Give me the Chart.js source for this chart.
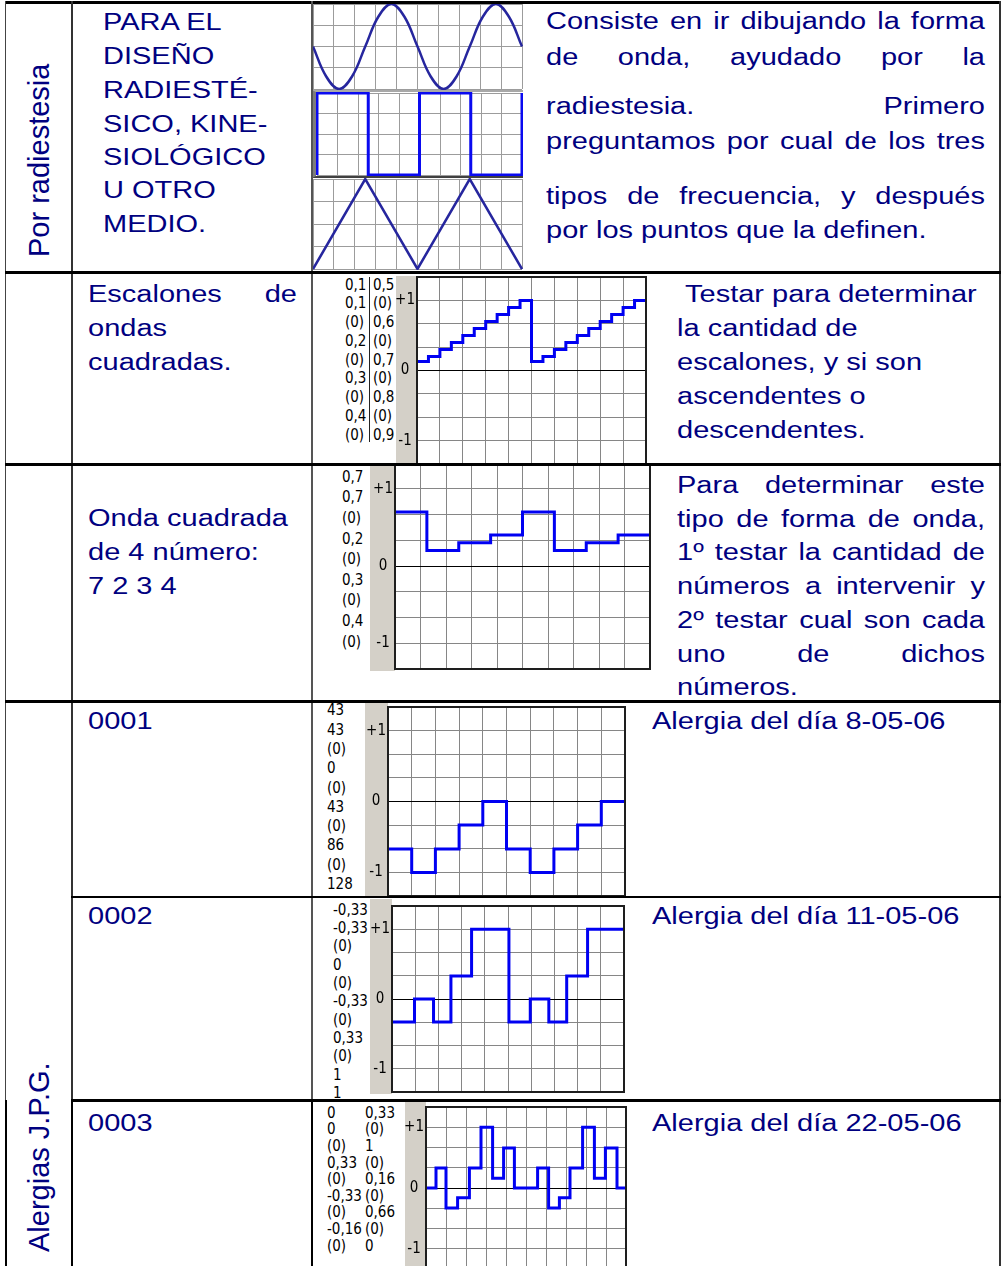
<!DOCTYPE html>
<html lang="es">
<head>
<meta charset="utf-8">
<title>Formas de onda</title>
<script src="https://cdn.jsdelivr.net/npm/chart.js@4.4.1/dist/chart.umd.min.js"></script>
<style>
  html, body { margin: 0; padding: 0; background: #fff; overflow: hidden; }
  #page { position: relative; width: 1005px; height: 1266px; overflow: hidden;
          font-family: "Liberation Sans", Arial, sans-serif; color: #000080; }
  .rule { position: absolute; z-index: 5; }
  .txt { position: absolute; font-size: 29px; line-height: 29px; white-space: nowrap;
         transform-origin: 0 24.5px; transform: scaleY(0.85); }
  .txt.just { white-space: normal; text-align: justify; text-align-last: justify; }
  .vert { position: absolute; font-size: 29px; line-height: 29px; white-space: nowrap;
          transform-origin: 0 0; transform: rotate(-90deg); }
  .lab { position: absolute; font-family: "Liberation Sans Narrow", "DejaVu Sans Condensed", sans-serif;
         font-size: 15px; color: #000; white-space: nowrap; }
  canvas { position: absolute; }
  .sqframe { position: absolute; box-sizing: border-box; border-left: 4px solid #7c7c7c;
             border-top: 2px solid #a8a8a8; border-bottom: 2px solid #404040; }
</style>
</head>
<body>
<div id="page"></div>
<script>
// x in grid columns (0..10), y in scope units

// row 1: basic wave shapes
const sineX = [0, 0.625, 1.25, 1.875, 2.5, 3.125, 3.75, 4.375, 5, 5.625, 6.25, 6.875, 7.5, 8.125, 8.75, 9.375, 10];
const sineY = [0, -0.7, -1, -0.7, 0, 0.7, 1, 0.7, 0, -0.7, -1, -0.7, 0, 0.7, 1, 0.7, 0];
const squareX = [0, 0, 2.5, 2.5, 5, 5, 7.5, 7.5, 10, 10];
const squareY = [-1, 1, 1, -1, -1, 1, 1, -1, -1, 1];
const triX = [0, 2.5, 5, 7.5, 10];
const triY = [-1, 1, -1, 1, -1];

// escalones (step starts)
const escX = [0, 0.5, 1, 1.5, 2, 2.5, 3, 3.5, 4, 4.5, 5, 5.5, 6, 6.5, 7, 7.5, 8, 8.5, 9, 9.5, 10];
const escY = [0.13, 0.2, 0.3, 0.4, 0.5, 0.6, 0.7, 0.8, 0.9, 1, 0.13, 0.2, 0.3, 0.4, 0.5, 0.6, 0.7, 0.8, 0.9, 1, 1];

// onda cuadrada 7 2 3 4
const ondaX = [0, 1.25, 2.5, 3.75, 5, 6.25, 7.5, 8.75, 10];
const ondaY = [0.7, 0.2, 0.3, 0.4, 0.7, 0.2, 0.3, 0.4, 0.4];

// alergias
const a1X = [0, 1, 2, 3, 4, 5, 6, 7, 8, 9, 10];
const a1Y = [-0.67, -1, -0.67, -0.33, 0, -0.67, -1, -0.67, -0.33, 0, 0];
const a2X = [0, 0.97, 1.79, 2.54, 3.43, 5.04, 5.96, 6.76, 7.53, 8.43, 10];
const a2Y = [-0.33, 0, -0.33, 0.33, 1, -0.33, 0, -0.33, 0.33, 1, 1];
const a3X = [0, 0.5, 1, 1.58, 2.17, 2.75, 3.33, 3.88, 4.42, 5.58, 6.13, 6.67, 7.2, 7.83, 8.42, 8.97, 9.55, 10];
const a3Y = [0, 0.33, -0.33, -0.16, 0.33, 1, 0.16, 0.66, 0, 0.33, -0.33, -0.16, 0.33, 1, 0.16, 0.66, 0, 0];

// scope grid rows and their labels
const gridLevels = [-4/3, -1, -2/3, -1/3, 0, 1/3, 2/3, 1, 4/3];
const levelText = ['', '-1', '', '', '0', '', '', '+1', ''];

// value lists printed beside each scope
const escLabA = ['0,1', '0,1', '(0)', '0,2', '(0)', '0,3', '(0)', '0,4', '(0)'];
const escLabB = ['0,5', '(0)', '0,6', '(0)', '0,7', '(0)', '0,8', '(0)', '0,9'];
const ondaLab = ['0,7', '0,7', '(0)', '0,2', '(0)', '0,3', '(0)', '0,4', '(0)'];
const a1Lab = ['43', '43', '(0)', '0', '(0)', '43', '(0)', '86', '(0)', '128'];
const a2Lab = ['-0,33', '-0,33', '(0)', '0', '(0)', '-0,33', '(0)', '0,33', '(0)', '1', '1'];
const a3LabA = ['0', '0', '(0)', '0,33', '(0)', '-0,33', '(0)', '-0,16', '(0)'];
const a3LabB = ['0,33', '(0)', '1', '(0)', '0,16', '(0)', '0,66', '(0)', '0'];

const page = document.getElementById('page');

function el(cls, css, text) {
  const d = document.createElement('div');
  d.className = cls;
  Object.assign(d.style, css);
  if (text !== undefined) d.textContent = text;
  page.appendChild(d);
  return d;
}
function rule(x, y, w, h, c) {
  el('rule', { left: x + 'px', top: y + 'px', width: w + 'px', height: h + 'px', background: c || '#000' });
}
function line(text, x, base, w) {
  const d = el(w ? 'txt just' : 'txt', { left: x + 'px', top: (base - 24.5) + 'px' }, text);
  if (w) d.style.width = w + 'px';
}
function column(items, x, firstMid, step) {
  items.forEach((t, i) => el('lab', { left: x + 'px', top: (firstMid + i * step - step / 2) + 'px', lineHeight: step + 'px' }, t));
}
function makeCanvas(x, y, w, h) {
  const c = document.createElement('canvas');
  c.width = w; c.height = h;
  c.style.left = x + 'px'; c.style.top = y + 'px';
  page.appendChild(c);
  return c;
}
const pts = (xs, ys) => xs.map((x, i) => ({ x: x, y: ys[i] }));
// no extra room for half tick labels at the ends of the axes
function noPad(s) { s.paddingTop = 0; s.paddingBottom = 0; s.paddingLeft = 0; s.paddingRight = 0; }

// ---- table rules ----
rule(5, 1, 996, 3);
rule(5, 1, 1, 1100, '#444');
rule(5, 1100, 2, 170);
rule(71, 1, 2, 1100, '#333');
rule(71, 1100, 2, 170);
rule(311, 1, 2, 1100, '#555');
rule(311, 1100, 2, 170);
rule(999, 1, 2, 1270, '#333');
rule(5, 271, 996, 3);
rule(5, 463, 996, 3);
rule(5, 700, 996, 3);
rule(71, 896, 930, 2);
rule(71, 1099, 930, 3);

// ---- text ----
el('vert', { left: '25px', top: '257px' }, 'Por radiestesia');
el('vert', { left: '25px', top: '1252px' }, 'Alergias J.P.G.');

[['PARA EL', 30], ['DISEÑO', 64], ['RADIESTÉ-', 98], ['SICO, KINE-', 132],
 ['SIOLÓGICO', 165], ['U OTRO', 198], ['MEDIO.', 232]].forEach(l => line(l[0], 103, l[1]));

line('Consiste en ir dibujando la forma', 546, 29, 439);
line('de onda, ayudado por la', 546, 65, 439);
line('radiestesia. Primero', 546, 114, 439);
line('preguntamos por cual de los tres', 546, 149, 439);
line('tipos de frecuencia, y después', 546, 204, 439);
line('por los puntos que la definen.', 546, 238);

line('Escalones de', 88, 302, 209);
line('ondas', 88, 336);
line('cuadradas.', 88, 370);
line('Testar para determinar', 685, 302);
line('la cantidad de', 677, 336);
line('escalones, y si son', 677, 370);
line('ascendentes o', 677, 404);
line('descendentes.', 677, 438);

line('Onda cuadrada', 88, 526);
line('de 4 número:', 88, 560);
line('7 2 3 4', 88, 594);
line('Para determinar este', 677, 493, 308);
line('tipo de forma de onda,', 677, 527, 308);
line('1º testar la cantidad de', 677, 560, 308);
line('números a intervenir y', 677, 594, 308);
line('2º testar cual son cada', 677, 628, 308);
line('uno de dichos', 677, 662, 308);
line('números.', 677, 695);

line('0001', 88, 729);
line('Alergia del día 8-05-06', 652, 729);
line('0002', 88, 924);
line('Alergia del día 11-05-06', 652, 924);
line('0003', 88, 1131);
line('Alergia del día 22-05-06', 652, 1131);

// ---- value columns ----
column(escLabA, 345, 285, 18.75);
column(escLabB, 373, 285, 18.75);
rule(369, 277, 1, 165, '#222');
column(ondaLab, 342, 477, 20.6);
column(a1Lab, 327, 711, 19.3);
column(a2Lab, 333, 910, 18.3);
column(a3LabA, 327, 1113, 16.6);
column(a3LabB, 365, 1113, 16.6);

// ---- charts ----
const scopeStrip = {
  id: 'scopeStrip',
  beforeDraw(chart) {
    const { ctx, chartArea: a } = chart;
    ctx.save();
    ctx.fillStyle = '#d4d0c8';
    ctx.fillRect(0, 0, a.left, chart.height);
    ctx.restore();
  },
  afterDatasetsDraw(chart) {
    const { ctx, chartArea: a } = chart;
    ctx.save();
    ctx.strokeStyle = '#1e1e1e';
    ctx.lineWidth = 2;
    ctx.strokeRect(a.left, a.top, a.right - a.left, a.bottom - a.top);
    ctx.restore();
  }
};

function scope(c, xs, ys, strip, pad) {
  return new Chart(c, {
    type: 'line',
    data: { datasets: [{ data: pts(xs, ys), stepped: true, borderColor: '#0000f2', borderWidth: 3, pointRadius: 0, fill: false }] },
    options: {
      responsive: false, animation: false, events: [],
      layout: { padding: pad },
      plugins: { legend: { display: false }, tooltip: { enabled: false } },
      scales: {
        x: {
          type: 'linear', min: 0, max: 10,
          ticks: { display: false, stepSize: 1 },
          grid: { color: '#868686', drawTicks: false },
          border: { display: false },
          afterFit: s => { s.height = 0; noPad(s); }
        },
        y: {
          min: -4/3, max: 4/3,
          afterBuildTicks: s => { s.ticks = gridLevels.map(v => ({ value: v })); },
          ticks: {
            autoSkip: false, padding: 2, crossAlign: 'center', color: '#000',
            font: { family: '"Liberation Sans Narrow", "DejaVu Sans Condensed", sans-serif', size: 15 },
            callback: (v, i) => levelText[i]
          },
          grid: { color: g => (g.tick && g.tick.value === 0 ? '#000' : '#868686'), drawTicks: false },
          border: { display: false },
          afterFit: s => { s.width = strip; noPad(s); }
        }
      }
    },
    plugins: [scopeStrip]
  });
}

function wave(c, xs, ys, color, width, tension) {
  return new Chart(c, {
    type: 'line',
    data: { datasets: [{ data: pts(xs, ys), borderColor: color, borderWidth: width, pointRadius: 0, tension: tension, clip: false }] },
    options: {
      responsive: false, animation: false, events: [],
      layout: { padding: 1 },
      plugins: { legend: { display: false }, tooltip: { enabled: false } },
      scales: {
        x: { type: 'linear', min: 0, max: 10, ticks: { display: false, stepSize: 1 },
             grid: { color: '#9c9c9c', drawTicks: false }, border: { display: false },
             afterFit: s => { s.height = 0; noPad(s); } },
        y: { min: -1, max: 1, ticks: { display: false, stepSize: 0.5 },
             grid: { color: '#9c9c9c', drawTicks: false }, border: { display: false },
             afterFit: s => { s.width = 0; noPad(s); } }
      }
    }
  });
}

wave(makeCanvas(312, 3, 211, 87), sineX, sineY, '#26269e', 2.5, 0.4);
el('sqframe', { left: '312px', top: '90px', width: '211px', height: '88px' });
wave(makeCanvas(316, 92, 207, 84), squareX, squareY, '#0a0af0', 3, 0);
wave(makeCanvas(312, 178, 211, 92), triX, triY, '#26269e', 2.5, 0);

scope(makeCanvas(396, 276, 252, 190), escX, escY, 21, { top: 1, right: 2, bottom: 2 });
scope(makeCanvas(370, 463, 282, 208), ondaX, ondaY, 25, { top: 0, right: 2, bottom: 2 });
scope(makeCanvas(365, 702, 262, 196), a1X, a1Y, 23, { top: 5, right: 2, bottom: 2 });
scope(makeCanvas(370, 899, 256, 195), a2X, a2Y, 22, { top: 7, right: 2, bottom: 2 });
scope(makeCanvas(405, 1102, 223, 167), a3X, a3Y, 21, { top: 5, right: 2, bottom: 0 });
</script>
</body>
</html>
